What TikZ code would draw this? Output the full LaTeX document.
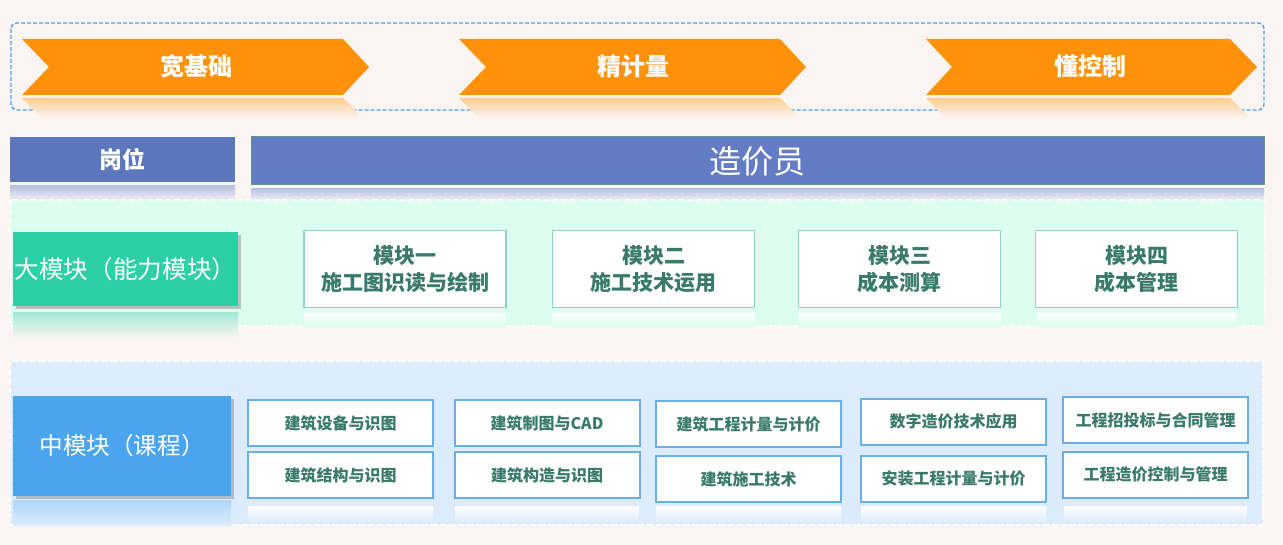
\documentclass[tikz,border=0pt]{standalone}
\usepackage{fontspec}
\setmainfont{Noto Sans CJK SC}
\usetikzlibrary{shadows}
\definecolor{bgpaper}{RGB}{250,245,242}
\definecolor{arroworange}{RGB}{255,146,10}
\definecolor{dashblue}{RGB}{80,160,230}
\definecolor{postblue}{RGB}{92,119,189}
\definecolor{roleblue}{RGB}{100,124,195}
\definecolor{mintbg}{RGB}{220,253,240}
\definecolor{bigmint}{RGB}{45,207,165}
\definecolor{modline}{RGB}{140,210,205}
\definecolor{modtext}{RGB}{58,122,106}
\definecolor{skybg}{RGB}{220,236,253}
\definecolor{bigsky}{RGB}{75,165,238}
\definecolor{courseline}{RGB}{105,175,235}
\tikzset{
  stagetext/.style={text=white,font=\bfseries\fontsize{12}{14}\selectfont},
  headbox/.style={fill=postblue,text=white,inner sep=0pt},
  bigbox/.style={text=white,inner sep=0pt,font=\fontsize{12.3}{15}\selectfont,
    drop shadow={shadow xshift=1.5pt,shadow yshift=-1.5pt,opacity=0.45}},
  modbox/.style={draw=modline,line width=0.8pt,fill=white,text=modtext,
    minimum width=101pt,minimum height=38.5pt,align=center,
    font=\bfseries\fontsize{10.5}{13.5}\selectfont},
  coursebox/.style={draw=courseline,line width=1pt,fill=white,text=modtext,
    minimum width=92.5pt,minimum height=23pt,
    font=\bfseries\fontsize{8}{10}\selectfont},
}
\begin{document}
\begin{tikzpicture}[x=0.5pt,y=-0.5pt]
  \fill[bgpaper] (0,0) rectangle (1283,545);
  \useasboundingbox (0,0) rectangle (1283,545);
  % top band
  \draw[dashblue,line width=0.7pt,dash pattern=on 2pt off 1pt,rounded corners=3pt] (11,23) rectangle (1264,110);
  \shade[top color=arroworange!45,bottom color=bgpaper] (22,98) -- (343,98) -- (363,118) -- (41,118) -- cycle;
  \shade[top color=arroworange!45,bottom color=bgpaper] (459,98) -- (780,98) -- (800,118) -- (478,118) -- cycle;
  \shade[top color=arroworange!45,bottom color=bgpaper] (926,98) -- (1230,98) -- (1250,118) -- (945,118) -- cycle;
  \fill[arroworange] (22,39) -- (343,39) -- (369,67) -- (343,95) -- (22,95) -- (49,67) -- cycle;
  \fill[arroworange] (459,39) -- (780,39) -- (806,67) -- (780,95) -- (459,95) -- (486,67) -- cycle;
  \fill[arroworange] (926,39) -- (1230,39) -- (1257,67) -- (1230,95) -- (926,95) -- (952,67) -- cycle;
  \node[stagetext] (stageA) at (196,66) {宽基础};
  \node[stagetext] (stageB) at (633,66) {精计量};
  \node[stagetext] (stageC) at (1090,66) {懂控制};
  % post row
  \shade[top color=postblue!45,bottom color=bgpaper] (10,186) rectangle (235,202);
  \shade[top color=roleblue!45,bottom color=bgpaper] (251,189) rectangle (1264,202);
  \node[headbox,minimum width=112.5pt,minimum height=22.5pt,font=\bfseries\fontsize{11.5}{14}\selectfont] (post) at (122.5,159.5) {岗位};
  \node[headbox,fill=roleblue,draw=modline!70!black,line width=0.5pt,minimum width=506.5pt,minimum height=24pt,font=\fontsize{16}{19}\selectfont] (role) at (757.5,161) {造价员};
  % big modules
  \fill[mintbg] (10,200) rectangle (1265,326);
  \draw[white,line width=0.8pt,dash pattern=on 3pt off 1.5pt] (10,200) rectangle (1265,326);
  \shade[top color=bigmint!45,bottom color=bgpaper] (13,312) rectangle (238,338);
  \foreach \xa/\xb in {304/506,552/755,798/1001,1037/1236}
    \shade[top color=white,bottom color=mintbg] (\xa,313) rectangle (\xb,326);
  \node[bigbox,fill=bigmint,minimum width=112.5pt,minimum height=37pt] (bigmod) at (125.5,269) {大模块（能力模块）};
  \node[modbox] (modA) at (405,269) {模块一\\施工图识读与绘制};
  \node[modbox] (modB) at (653.5,269) {模块二\\施工技术运用};
  \node[modbox] (modC) at (899.5,269) {模块三\\成本测算};
  \node[modbox] (modD) at (1136.5,269) {模块四\\成本管理};
  % courses
  \fill[skybg] (10,361) rectangle (1263,525);
  \draw[white,line width=0.8pt,dash pattern=on 3pt off 1.5pt] (10,361) rectangle (1263,525);
  \shade[top color=bigsky!45,bottom color=skybg] (13,500) rectangle (231,525);
  \foreach \xa/\xb in {248/433,455/639,656/841,861/1046,1064/1247}
    \shade[top color=white,bottom color=skybg] (\xa,506) rectangle (\xb,522);
  \node[bigbox,fill=bigsky,minimum width=109pt,minimum height=50pt,font=\fontsize{11.8}{14}\selectfont] (midmod) at (122,446) {中模块（课程）};
  \node[coursebox] (cA1) at (340.5,423) {建筑设备与识图};
  \node[coursebox] (cA2) at (340.5,475) {建筑结构与识图};
  \node[coursebox] (cB1) at (547,423) {建筑制图与CAD};
  \node[coursebox] (cB2) at (547,475) {建筑构造与识图};
  \node[coursebox] (cC1) at (748.5,424) {建筑工程计量与计价};
  \node[coursebox] (cC2) at (748.5,479) {建筑施工技术};
  \node[coursebox] (cD1) at (953.5,421.5) {数字造价技术应用};
  \node[coursebox] (cD2) at (953.5,478.5) {安装工程计量与计价};
  \node[coursebox] (cE1) at (1155.5,420) {工程招投标与合同管理};
  \node[coursebox] (cE2) at (1155.5,474.5) {工程造价控制与管理};
\end{tikzpicture}
\end{document}
